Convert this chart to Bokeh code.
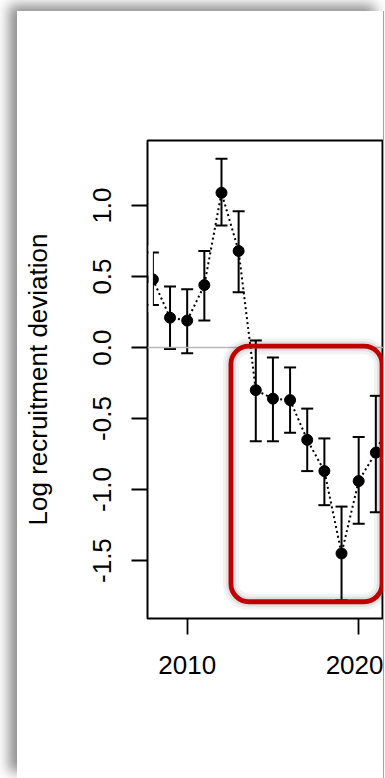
from bokeh.plotting import figure
from bokeh.models import (Range1d, FixedTicker, Whisker, TeeHead, ColumnDataSource,
                          Span, BoxAnnotation)
from bokeh.embed import file_html
from bokeh.resources import INLINE

# ---- data ----
years = [2008, 2009, 2010, 2011, 2012, 2013, 2014, 2015, 2016, 2017, 2018, 2019, 2020, 2021, 2022]
dev = [0.48, 0.21, 0.19, 0.44, 1.09, 0.68, -0.30, -0.36, -0.37, -0.65, -0.87, -1.45, -0.94, -0.74, -0.45]
lower = [0.30, -0.01, -0.04, 0.19, 0.86, 0.39, -0.66, -0.66, -0.60, -0.87, -1.11, -1.78, -1.24, -1.16, -0.80]
upper = [0.67, 0.43, 0.41, 0.68, 1.33, 0.96, 0.05, -0.07, -0.14, -0.43, -0.64, -1.12, -0.63, -0.34, -0.10]

x_ticks = [2010, 2020]
y_ticks = [-1.5, -1.0, -0.5, 0.0, 0.5, 1.0]
y_tick_labels = ["-1.5", "-1.0", "-0.5", "0.0", "0.5", "1.0"]
y_title = "Log recruitment deviation"

# highlighted period (red rounded box), in data units
hl_years = (2012.55, 2021.36)
hl_dev = (-1.79, 0.01)

FONT = "Liberation Sans"
X_START, X_END = 2007.686, 2021.447

src = ColumnDataSource(dict(year=years, dev=dev, lower=lower, upper=upper))

p = figure(width=366, height=767, output_backend="svg", toolbar_location=None,
           x_range=Range1d(X_START, X_END), y_range=Range1d(-1.908, 1.458),
           min_border_left=130, min_border_top=129, min_border_bottom=160, min_border_right=0,
           margin=(11, 0, 0, 17),
           styles={"box-shadow": "-8px -6px 12px rgba(0,0,0,0.45), 1px 0px 0px #a8a8a8"})
p.border_fill_color = "white"
p.background_fill_color = "white"
p.outline_line_color = "black"
p.outline_line_width = 2
p.grid.visible = False

# zero reference line
p.add_layout(Span(location=0, dimension="width", line_color="#b8b8b8", line_width=1.5))

# error bars
head_kw = dict(size=12, line_width=2, line_color="black")
p.add_layout(Whisker(base="year", lower="lower", upper="upper", source=src,
                     line_color="black", line_width=2,
                     upper_head=TeeHead(**head_kw), lower_head=TeeHead(**head_kw)))

# dotted connecting line and points
p.line("year", "dev", source=src, line_color="black", line_width=2, line_dash="2 3")
p.scatter("year", "dev", source=src, size=11, fill_color="black", line_color="black")

# the first year is clipped at its year value in the original (keep the frame line visible)
p.add_layout(BoxAnnotation(left=X_START + 0.065, right=years[0],
                           bottom=lower[0] - 0.05, top=upper[0] + 0.05,
                           fill_color="white", fill_alpha=1, line_color=None))

# highlight box with a soft shadow
for lw, la in [(16, 0.05), (10, 0.07)]:
    p.add_layout(BoxAnnotation(left=hl_years[0], right=hl_years[1], bottom=hl_dev[0], top=hl_dev[1],
                               fill_color=None, line_color="black", line_alpha=la, line_width=lw,
                               border_radius=18))
p.add_layout(BoxAnnotation(left=hl_years[0], right=hl_years[1], bottom=hl_dev[0], top=hl_dev[1],
                           fill_color=None, line_color="#c00000", line_alpha=1, line_width=4.8,
                           border_radius=18))

for ax in (p.xaxis[0], p.yaxis[0]):
    ax.axis_line_color = None
    ax.major_tick_line_color = "black"
    ax.major_tick_line_width = 1.8
    ax.major_tick_out = 16
    ax.major_tick_in = 0
    ax.minor_tick_line_color = None
    ax.major_label_text_font = FONT
    ax.major_label_text_font_size = "26px"
    ax.major_label_text_color = "black"
    ax.axis_label_text_font = FONT
    ax.axis_label_text_font_size = "26px"
    ax.axis_label_text_font_style = "normal"
    ax.axis_label_text_color = "black"

p.xaxis.ticker = FixedTicker(ticks=x_ticks)
p.xaxis.major_label_standoff = 21

p.yaxis.ticker = FixedTicker(ticks=y_ticks)
p.yaxis.major_label_overrides = {t: l for t, l in zip(y_ticks, y_tick_labels)}
p.yaxis.major_label_orientation = "vertical"
p.yaxis.major_label_standoff = 20
p.yaxis.axis_label = y_title
p.yaxis.axis_label_standoff = 38

open("out.html", "w").write(file_html(p, INLINE))
